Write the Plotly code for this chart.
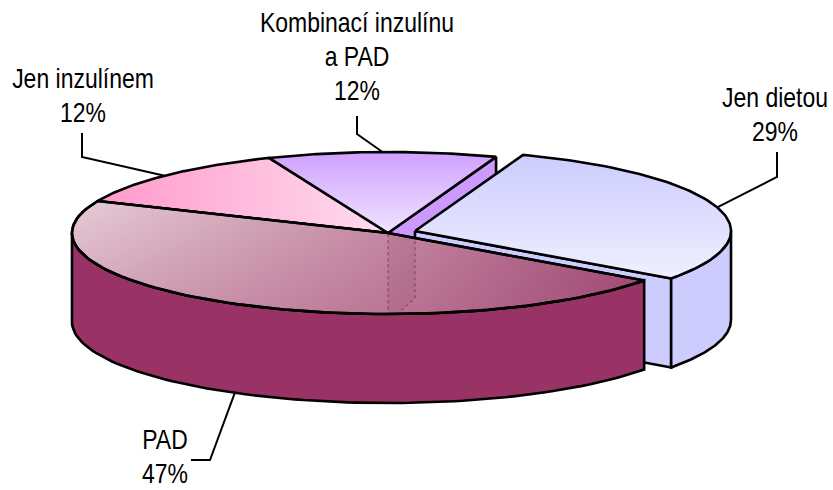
import numpy as np
import plotly.graph_objects as go

# ---- data ----
categories = ["Jen dietou", "PAD", "Jen inzulínem", "Kombinací inzulínu a PAD"]
values = [29.4, 46.5, 12.4, 11.7]
percent_labels = ["29%", "47%", "12%", "12%"]
label_lines = [["Jen dietou"], ["PAD"], ["Jen inzulínem"], ["Kombinací inzulínu", "a PAD"]]

# ---- layout of the pseudo-3D pie (pixels) ----
W, H = 833, 490
CX, CY, RX, RY, DEPTH = 388, 233, 316, 81, 89
EXPLODE = {0: (27, -2)}
START = 70
FONT = "Liberation Sans, Arial, sans-serif"
LINE = dict(color="black", width=2.6)

share = np.array(values, float) / sum(values) * 360
ends = START - np.cumsum(share)
starts = ends + share
spans = list(zip(starts, ends))


def centre(i):
    dx, dy = EXPLODE.get(i, (0, 0))
    return CX + dx, CY + dy


def arc(i, a0, a1, drop=0, n=90):
    c = centre(i)
    t = np.radians(np.linspace(a0, a1, n))
    return c[0] + RX * np.cos(t), c[1] - RY * np.sin(t) + drop


def poly(x, y, fill=None, grad=None, line=LINE):
    kw = dict(x=list(x), y=list(y), mode="lines", fill="toself", line=line,
              hoverinfo="skip", showlegend=False)
    if grad:
        kw["fillgradient"] = grad
    else:
        kw["fillcolor"] = fill
    return go.Scatter(**kw)


def slice_top(i, fill=None, grad=None, line=LINE):
    c = centre(i)
    x, y = arc(i, *spans[i])
    return poly(np.r_[c[0], x, c[0]], np.r_[c[1], y, c[1]], fill, grad, line)


def cut_wall(i, angle, fill):
    c = centre(i)
    x, y = arc(i, angle, angle, n=1)
    return poly([c[0], x[0], x[0], c[0], c[0]],
                [c[1], y[0], y[0] + DEPTH, c[1] + DEPTH, c[1]], fill)


def outer_wall(i, a0, a1, fill):
    xt, yt = arc(i, a0, a1)
    xb, yb = arc(i, a1, a0, DEPTH)
    return poly(np.r_[xt, xb, xt[0]], np.r_[yt, yb, yt[0]], fill)


fig = go.Figure()

# back slices (vertical gradients run bottom -> top)
fig.add_trace(cut_wall(3, spans[3][1], "#cc99ff"))
fig.add_trace(slice_top(2, grad=dict(type="horizontal",
                                     colorscale=[[0, "#ff99cc"], [1, "#ffdcee"]])))
fig.add_trace(slice_top(3, grad=dict(type="vertical",
                                     colorscale=[[0, "#f0e4ff"], [1, "#cfa0ff"]])))

# exploded slice
fig.add_trace(cut_wall(0, spans[0][1], "#ccccff"))
fig.add_trace(outer_wall(0, spans[0][1], 0, "#ccccff"))
fig.add_trace(slice_top(0, grad=dict(type="vertical",
                                     colorscale=[[0, "#f0f0ff"], [1, "#ccccff"]])))

# large front slice
fig.add_trace(outer_wall(1, -180, spans[1][0], "#993366"))
fig.add_trace(slice_top(1, grad=dict(type="horizontal",
                                     colorscale=[[0, "#e6ccd6"], [0.55, "#c78fa8"], [1, "#a3507a"]])))
fig.add_trace(slice_top(1, grad=dict(type="vertical",
                                     colorscale=[[0, "rgba(153,51,102,0.28)"], [1, "rgba(153,51,102,0)"]]),
                        line=dict(color="rgba(0,0,0,0)", width=0)))

# inner walls seen through the translucent top
ghost = dict(color="rgba(110,50,80,0.55)", width=1.5, dash="dot")
c0 = centre(0)
front_y = CY + RY
hidden_x = [CX, c0[0], c0[0], CX + (c0[0] - CX) * 0.3, CX, CX]
hidden_y = [CY, c0[1] + 8, front_y - 16, front_y + 1, front_y + 1, CY]
fig.add_trace(go.Scatter(x=hidden_x, y=hidden_y, mode="lines", fill="toself",
                         fillcolor="rgba(110,40,90,0.10)", line=ghost,
                         hoverinfo="skip", showlegend=False))

# outline of the front slice on top
xp, yp = arc(1, *spans[1])
fig.add_trace(go.Scatter(x=np.r_[CX, xp, CX], y=np.r_[CY, yp, CY], mode="lines", line=LINE,
                         hoverinfo="skip", showlegend=False))

# leader lines, starting on the pie rim
leaders = [
    (0, 17, [(777, 177), (777, 152)]),
    (1, -119, [(210, 460), (191, 460)]),
    (2, 135, [(82, 157), (82, 133)]),
    (3, 91, [(357, 134), (357, 116)]),
]
for i, angle, pts in leaders:
    if i == 1:
        x0, y0 = arc(i, angle, angle, DEPTH, n=1)
    else:
        x0, y0 = arc(i, angle, angle, n=1)
    fig.add_trace(go.Scatter(x=[x0[0]] + [p[0] for p in pts],
                             y=[y0[0]] + [p[1] for p in pts],
                             mode="lines", line=dict(color="black", width=2),
                             hoverinfo="skip", showlegend=False))

# labels
anchors = [(775, 100), (165, 442), (83, 81), (357, 25)]
LINE_STEP = 34
for i, (ax, ay) in enumerate(anchors):
    lines = label_lines[i] + [percent_labels[i]]
    fig.add_trace(go.Scatter(x=[ax] * len(lines),
                             y=[ay + k * LINE_STEP for k in range(len(lines))],
                             text=lines, mode="text", textposition="middle center",
                             textfont=dict(family=FONT, size=28, color="black"),
                             hoverinfo="skip", showlegend=False))

fig.update_layout(width=W, height=H, margin=dict(l=0, r=0, t=0, b=0),
                  paper_bgcolor="white", plot_bgcolor="white",
                  xaxis=dict(range=[0, W], visible=False, fixedrange=True),
                  yaxis=dict(range=[H, 0], visible=False, fixedrange=True))

# Page without its default margin; labels condensed like a narrow typeface.
post = """
document.body.style.margin = '0';
document.querySelectorAll('.textpoint text').forEach(function (t) {
  var w = t.getComputedTextLength();
  t.setAttribute('textLength', (w * 0.82).toFixed(1));
  t.setAttribute('lengthAdjust', 'spacingAndGlyphs');
});
"""
fig.write_html("out.html", config=dict(displayModeBar=False), post_script=post)
